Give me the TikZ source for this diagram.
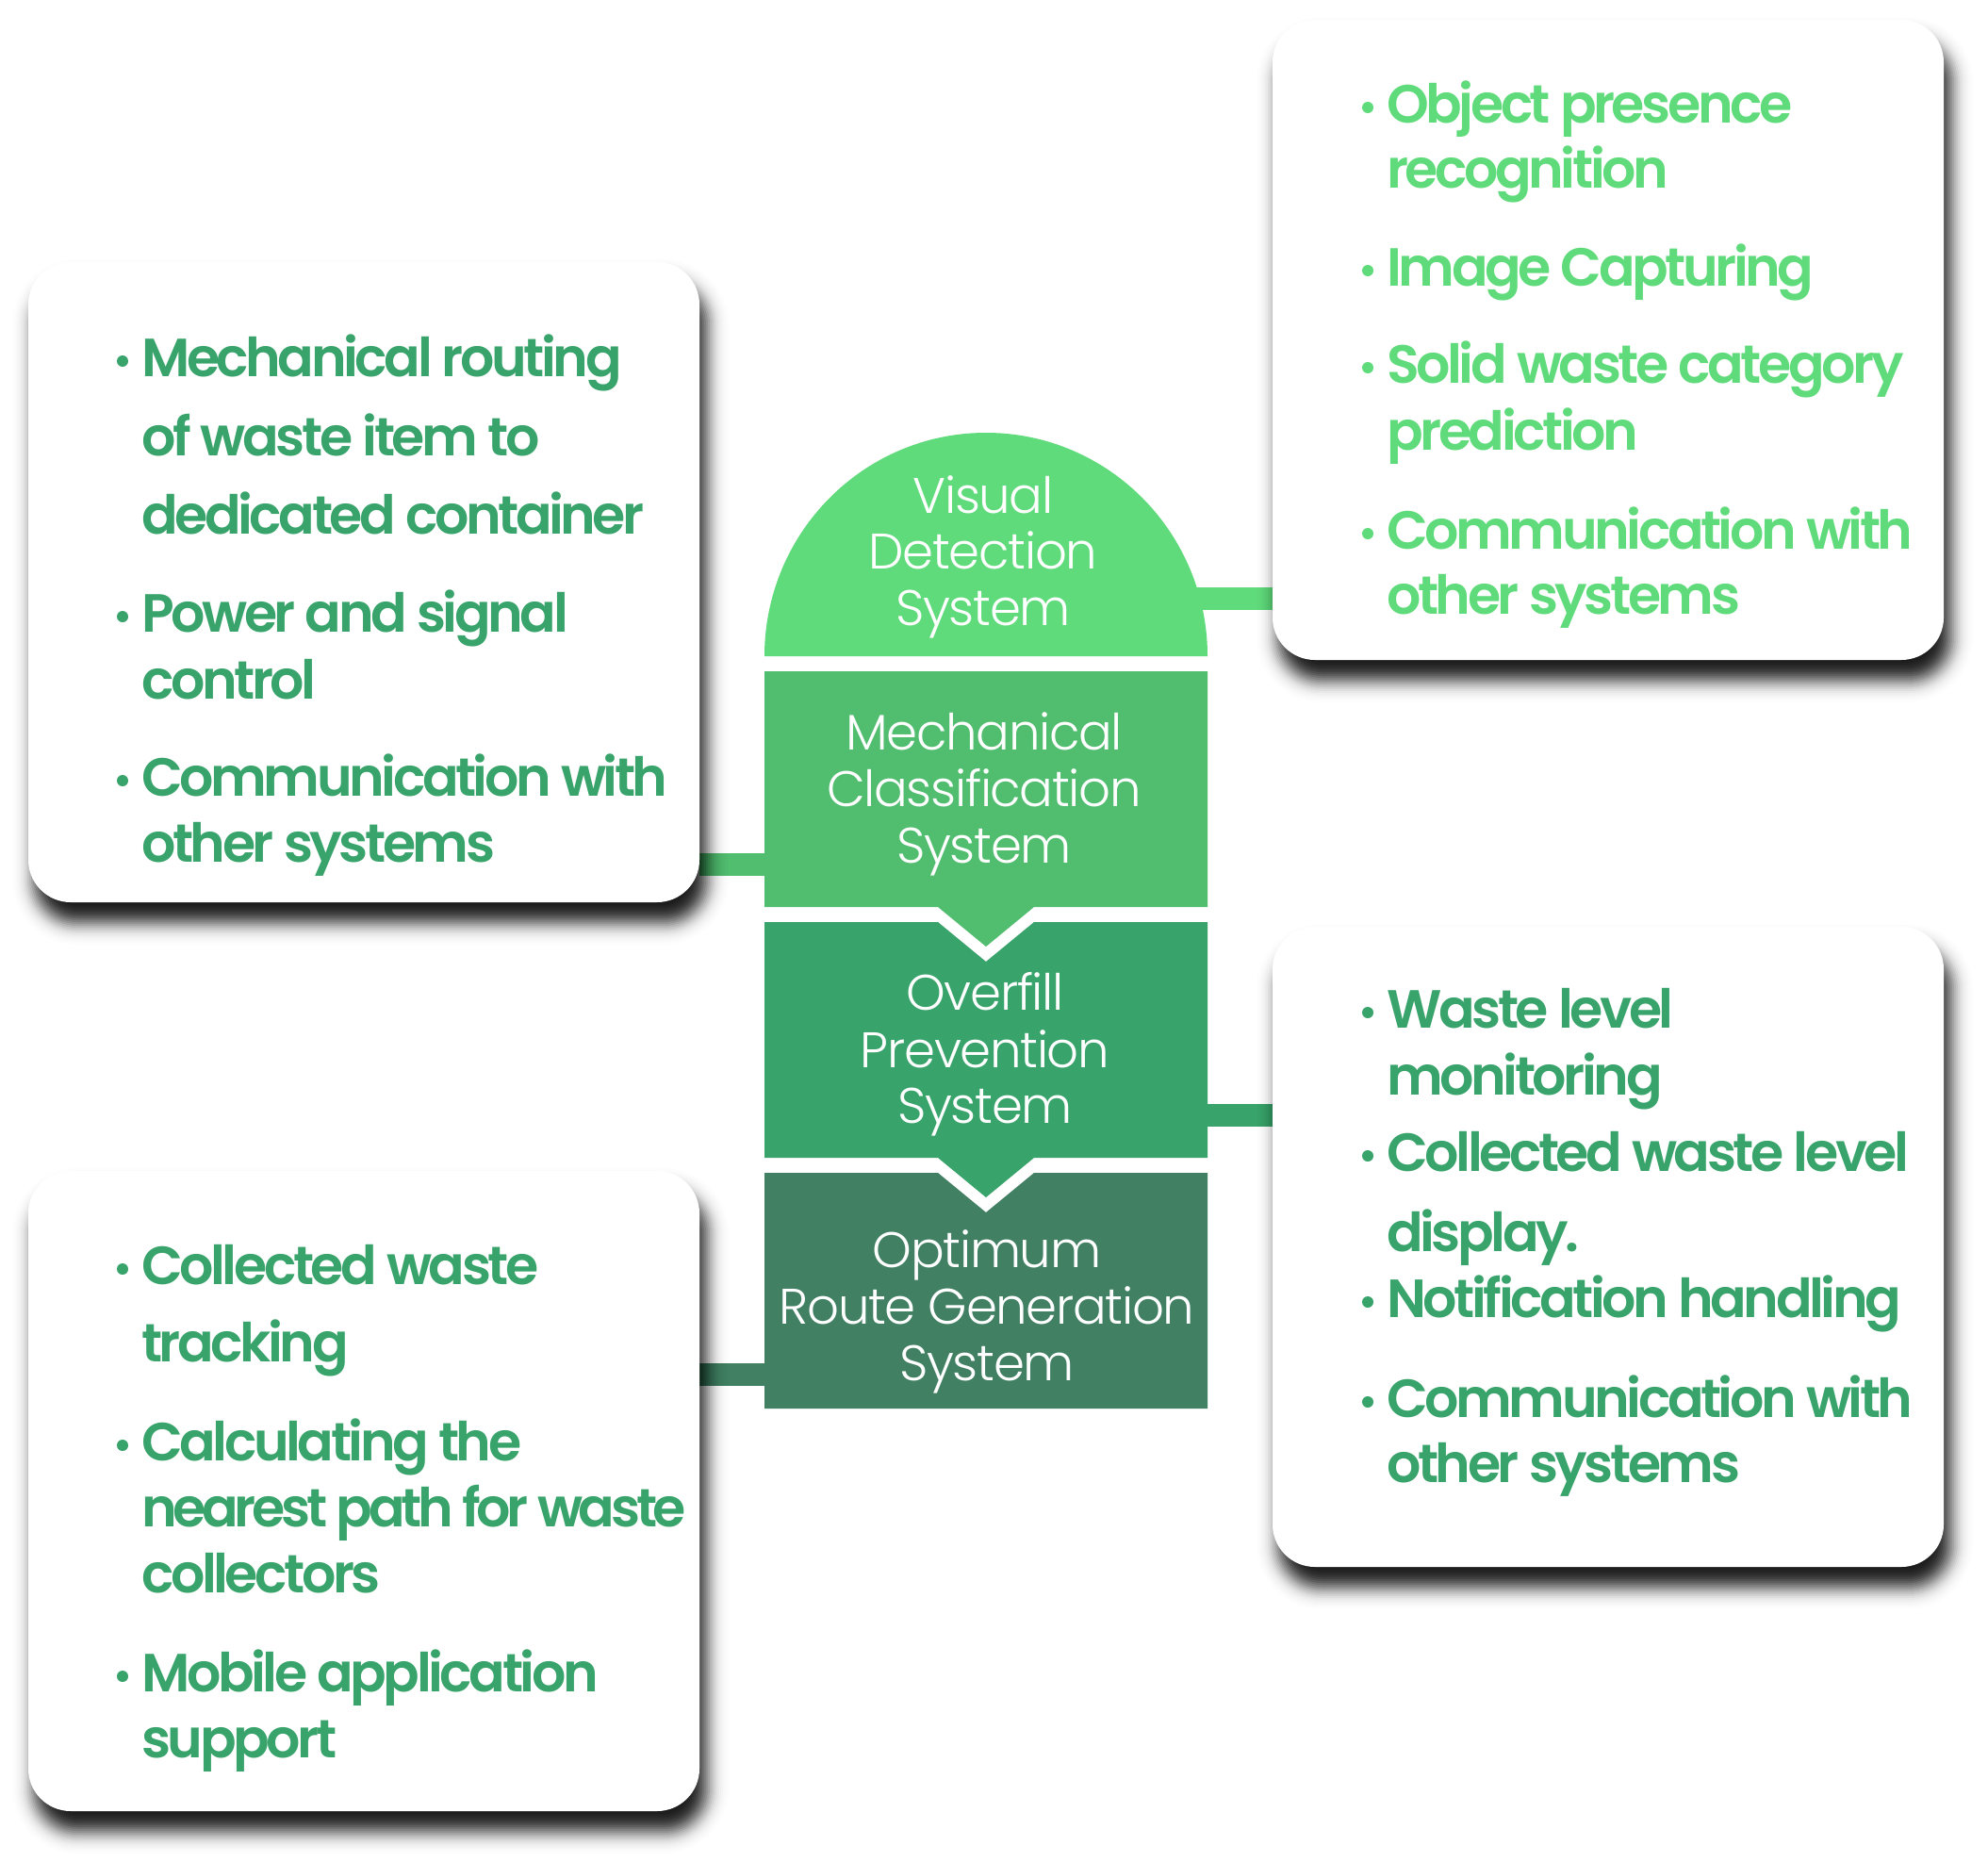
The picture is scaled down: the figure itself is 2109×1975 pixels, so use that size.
\documentclass[tikz,border=0pt]{standalone}
\usepackage{fontspec}
\setmainfont{Poppins}[BoldFont={Poppins SemiBold}, BoldFeatures={LetterSpace=-6}]
\newfontfamily\stagefont{Poppins Light}[LetterSpace=-2.5]
\newfontfamily\tightbold{Poppins SemiBold}[LetterSpace=-7.5]
\definecolor{gA}{HTML}{60DB7B}
\definecolor{gB}{HTML}{51BD6F}
\definecolor{gC}{HTML}{38A36A}
\definecolor{gD}{HTML}{418063}
\pgfdeclarelayer{paper}
\pgfdeclarelayer{bars}
\pgfdeclarelayer{shade}
\pgfsetlayers{paper,bars,shade,main}
% soft drop shadow (offset 7,21; blur about 11) under a panel given by its corners
\newcommand{\panelshadow}[4]{%
  \foreach \d in {-24,-22,...,24}{%
    \pgfmathsetmacro\ta{1-0.9/(1+exp(1.702*(\d-1)/11))}%
    \pgfmathsetmacro\tb{1-0.9/(1+exp(1.702*(\d+1)/11))}%
    \pgfmathsetmacro\op{1-\ta/\tb}%
    \pgfmathsetmacro\r{45+\d}%
    \fill[black,opacity=\op,rounded corners=\r pt]
      (#1+7-\d,#2+21-\d) rectangle (#3+7+\d,#4+21+\d);
  }%
}
\begin{document}
\begin{tikzpicture}[x=1pt,y=-1pt,
  panel/.style={fill=white, rounded corners=45pt, minimum width=712pt,
                minimum height=679pt, inner sep=0pt},
  zone/.style={inner sep=0pt, minimum width=470pt, minimum height=250pt},
  bar/.style={line width=24pt},
  ptext/.style={font=\bfseries\fontsize{57pt}{60pt}\selectfont,
                inner sep=0pt, anchor=base west},
  stext/.style={font=\stagefont\fontsize{53pt}{60pt}\selectfont,
                text=white, inner sep=0pt, anchor=base}]

\begin{pgfonlayer}{paper}
  \fill[white] (0,0) rectangle (2109,1975);
\end{pgfonlayer}
\useasboundingbox (0,0) rectangle (2109,1975);

% panels
\node[panel] (tl) at (386,617.5) {};
\node[panel] (tr) at (1706,360.5) {};
\node[panel] (br) at (1706,1322.5) {};
\node[panel] (bl) at (386,1581.5) {};

\begin{pgfonlayer}{shade}
  \panelshadow{30}{278}{742}{957}
  \panelshadow{1350}{21}{2062}{700}
  \panelshadow{1350}{983}{2062}{1662}
  \panelshadow{30}{1242}{742}{1921}
\end{pgfonlayer}

% anchors of the four stages
\node[zone, minimum height=237pt] (vis) at (1046,577.5) {};
\node[zone] (mech) at (1046,837) {};
\node[zone] (over) at (1046,1103) {};
\node[zone] (opt) at (1046,1369) {};

% connectors
\coordinate (yv) at (0,635);
\coordinate (ym) at (0,916.5);
\coordinate (yo) at (0,1182.5);
\coordinate (yp) at (0,1458);
\begin{pgfonlayer}{bars}
  \draw[bar,gA] (vis.center |- yv) -- (tr.west |- yv);
  \draw[bar,gB] (tl.east |- ym) -- (mech.center |- ym);
  \draw[bar,gC] (over.center |- yo) -- (br.west |- yo);
  \draw[bar,gD] (bl.east |- yp) -- (opt.center |- yp);
\end{pgfonlayer}

% stages
\fill[gA] (811,696) arc[start angle=180, end angle=0, x radius=235pt, y radius=237pt] -- cycle;
\fill[gB] (811,712) -- (1281,712) -- (1281,962) -- (1097,962) -- (1046,1004)
  -- (995,962) -- (811,962) -- cycle;
\fill[gC] (811,978) -- (995,978) -- (1046,1020) -- (1097,978) -- (1281,978)
  -- (1281,1228) -- (1097,1228) -- (1046,1270) -- (995,1228) -- (811,1228) -- cycle;
\fill[gD] (811,1244) -- (995,1244) -- (1046,1286) -- (1097,1244) -- (1281,1244)
  -- (1281,1494) -- (811,1494) -- cycle;

% stage titles
\foreach \yb/\t [count=\i] in {544/Visual, 603/Detection, 663/System}
  \node[stext] (vis\i) at (1043,\yb) {\t};
\foreach \yb/\t [count=\i] in {795/Mechanical, 855/Classification, 915/System}
  \node[stext] (mech\i) at (1044,\yb) {\t};
\foreach \yb/\t [count=\i] in {1071/Overfill, 1132/Prevention, 1191/System}
  \node[stext] (over\i) at (1045,\yb) {\t};
\foreach \yb/\t [count=\i] in {1344/Optimum, 1404/{Route Generation}, 1464/System}
  \node[stext] (opt\i) at (1047,\yb) {\t};

% bullet lists
\foreach \yb/\t/\b in {399/{Mechanical routing}/1, 483/{of waste item to}/0,
    566/{dedicated container}/0, 670/{Power and signal}/1, 741/{control}/0,
    844/{Communication with}/1, 914/{other systems}/0}{
  \node[ptext,text=gC] (tl\yb) at (150,\yb) {\t};
  \ifnum\b=1 \fill[gC] (130,\yb-16) circle (6pt); \fi
}
\foreach \yb/\t/\b in {130/{Object presence}/1, 199/{recognition}/0,
    303/{Image Capturing}/1, 406/{Solid waste category}/1, 477/{prediction}/0,
    582/{Communication with}/1, 651/{other systems}/0}{
  \node[ptext,text=gA] (tr\yb) at (1471,\yb) {\t};
  \ifnum\b=1 \fill[gA] (1451,\yb-16) circle (6pt); \fi
}
\foreach \yb/\t/\b in {1090/{Waste level}/1, 1161/{monitoring}/0,
    1242/{Collected waste level}/1, 1327/{display.}/0,
    1397/{Notification handling}/1,
    1503/{Communication with}/1, 1572/{other systems}/0}{
  \node[ptext,text=gC] (br\yb) at (1471,\yb) {\t};
  \ifnum\b=1 \fill[gC] (1451,\yb-16) circle (6pt); \fi
}
\foreach \yb/\t/\b in {1362/{Collected waste}/1, 1444/{tracking}/0,
    1549/{Calculating the}/1, 1689/{collectors}/0,
    1794/{Mobile application}/1, 1864/{support}/0}{
  \node[ptext,text=gC] (bl\yb) at (150,\yb) {\t};
  \ifnum\b=1 \fill[gC] (130,\yb-16) circle (6pt); \fi
}
\node[ptext,text=gC,font=\tightbold\fontsize{57pt}{60pt}\selectfont]
  (bl1619) at (150,1619) {nearest path for waste};
\end{tikzpicture}
\end{document}
